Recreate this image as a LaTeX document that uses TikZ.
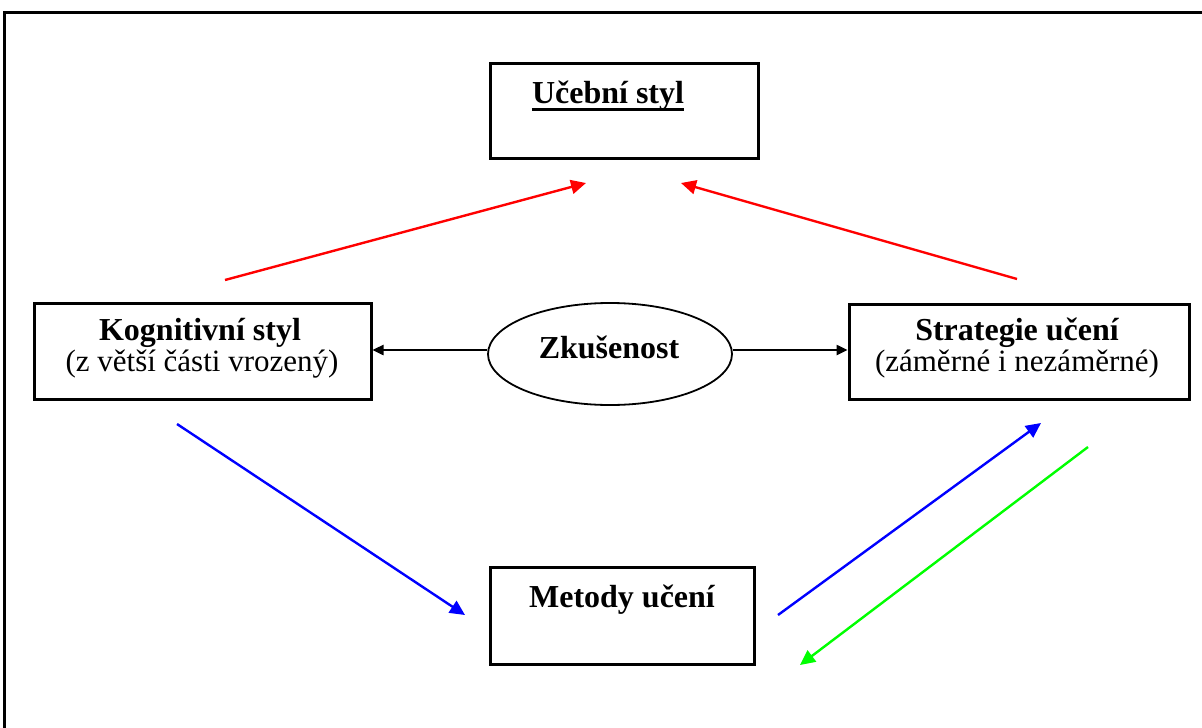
\documentclass[tikz,border=0pt]{standalone}
\usepackage{fontspec}
\setmainfont{Liberation Serif}
\usetikzlibrary{arrows.meta,shapes.geometric}
\tikzset{
  box/.style={draw=black, line width=3pt, fill=white, inner sep=0pt},
  oval/.style={draw=black, ellipse, line width=1.8pt, inner sep=0pt, minimum width=244pt, minimum height=102pt},
  ttl/.style={font=\fontsize{32}{38}\selectfont\bfseries, anchor=base, inner sep=0pt},
  sub/.style={font=\fontsize{31}{36}\selectfont, anchor=base, inner sep=0pt},
  conn/.style={line width=2.4pt, -{Triangle[length=15pt,width=14pt]}},
  bconn/.style={line width=2.4pt, -{Triangle[length=11pt,width=10pt]}},
}
\begin{document}
\begin{tikzpicture}[x=1pt,y=-1pt]
\useasboundingbox (0,0) rectangle (1202,728);
\fill[white] (0,0) rectangle (1202,728);
\draw[line width=3pt] (4,740) -- (4,12) -- (1215,12);

% boxes
\node[box, minimum width=268pt, minimum height=95pt] (ucebni) at (624,110.5) {};
\node[box, minimum width=337pt, minimum height=96pt] (kog) at (202.5,351) {};
\node[box, minimum width=340pt, minimum height=95pt] (strat) at (1019,351.5) {};
\node[box, minimum width=264pt, minimum height=97pt] (metody) at (622,615.5) {};
\node[oval] (zk) at (610,354) {};

% texts
\node[ttl] (tuceb) at (608,103) {Učební styl};
\draw[line width=3pt] ([yshift=-6pt]tuceb.base west) -- ([yshift=-6pt]tuceb.base east);
\node[ttl] (tkog) at (200,340) {Kognitivní styl};
\node[sub] (skog) at (202,371) {(z větší části vrozený)};
\node[ttl] (tstrat) at (1017,340) {Strategie učení};
\node[sub] (sstrat) at (1017,371) {(záměrné i nezáměrné)};
\node[ttl] (tzk) at (609,358) {Zkušenost};
\node[ttl] (tmet) at (622,607) {Metody učení};

% free ends
\coordinate (r1s) at (225,280);
\coordinate (r1e) at (586,183);
\coordinate (r2s) at (1017,279);
\coordinate (r2e) at (681,183);
\coordinate (b1s) at (177,424);
\coordinate (b1e) at (465,615);
\coordinate (b2s) at (778,615);
\coordinate (b2e) at (1041,423);
\coordinate (g1s) at (1088,447);
\coordinate (g1e) at (800,665);

% connectors
\draw[bconn, black] (zk.west |- 0,350) -- (kog.east |- 0,350);
\draw[bconn, black] (zk.east |- 0,350) -- (strat.west |- 0,350);
\draw[conn, red] (r1s) -- (r1e);
\draw[conn, red] (r2s) -- (r2e);
\draw[conn, blue] (b1s) -- (b1e);
\draw[conn, blue] (b2s) -- (b2e);
\draw[conn, green] (g1s) -- (g1e);
\end{tikzpicture}
\end{document}
